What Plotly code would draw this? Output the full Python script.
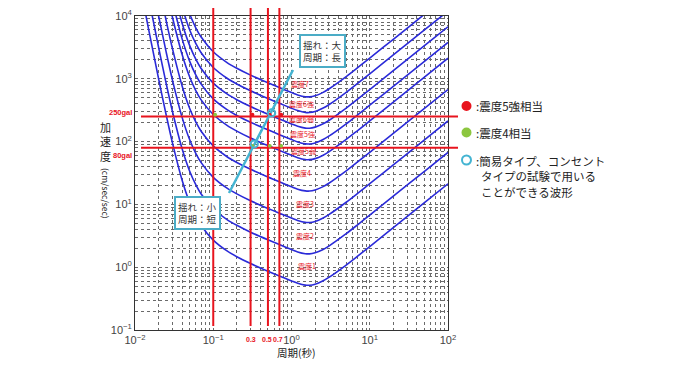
import plotly.graph_objects as go

# ---- data ----
periods = [0.01, 0.012, 0.015, 0.02, 0.025, 0.03, 0.04, 0.05, 0.06, 0.07, 0.1, 0.15, 0.2,
           0.3, 0.5, 0.7, 1.0, 1.2, 1.5, 1.7, 2.0, 2.5, 3.0, 5.0, 7.0, 10, 20, 50, 100]

shindo1 = [None, 24490, 5970, 1006, 268, 97.2, 24.3, 10.67, 6.44, 4.62, 2.70, 1.815, 1.470,
           1.143, 0.864, 0.725, 0.605, 0.554, 0.518, 0.516, 0.536, 0.602, 0.687, 1.082, 1.500,
           2.135, 4.26, 10.65, 21.3]
shindo2 = [None, None, 18900, 3181, 847, 307, 76.9, 33.7, 20.4, 14.6, 8.53, 5.74, 4.65,
           3.61, 2.73, 2.29, 1.91, 1.75, 1.64, 1.63, 1.70, 1.90, 2.17, 3.42, 4.74,
           6.75, 13.5, 33.7, 67.4]
shindo3 = [None, None, None, 10060, 2679, 972, 243, 106.7, 64.4, 46.2, 27.0, 18.15, 14.7,
           11.43, 8.64, 7.25, 6.05, 5.54, 5.18, 5.16, 5.36, 6.02, 6.87, 10.82, 15.0,
           21.35, 42.6, 106.5, 213]
shindo4 = [None, None, None, 31810, 8472, 3073, 769, 337, 204, 146, 85.3, 57.4, 46.5,
           36.2, 27.3, 22.9, 19.1, 17.5, 16.4, 16.3, 17.0, 19.0, 21.7, 34.2, 47.4,
           67.5, 135, 337, 674]
shindo5l = [None, None, None, None, 26790, 9718, 2431, 1067, 644, 462, 270, 181.5, 147,
            114.3, 86.4, 72.5, 60.5, 55.4, 51.8, 51.6, 53.6, 60.2, 68.7, 108.2, 150,
            213.5, 426, 1065, 2130]
shindo5u = [None, None, None, None, None, 17280, 4323, 1897, 1145, 822, 479, 323, 261,
            203, 154, 129, 108, 98.5, 92.1, 91.8, 95.3, 107, 122, 192, 267,
            380, 758, 1894, 3788]
shindo6l = [None, None, None, None, None, 30730, 7687, 3374, 2036, 1462, 853, 574, 465,
            361, 273, 229, 191, 175, 164, 163, 170, 190, 217, 342, 474,
            675, 1347, 3368, 6736]
shindo6u = [None, None, None, None, None, None, 13670, 6000, 3620, 2600, 1516, 1021, 827,
            643, 486, 408, 340, 312, 291, 290, 301, 339, 386, 609, 844,
            1201, 2396, 5989, 11980]
shindo7 = [None, None, None, None, None, None, None, 10670, 6437, 4623, 2696, 1815, 1470,
           1143, 864, 725, 605, 554, 518, 516, 536, 602, 687, 1082, 1500,
           2135, 4260, 10650, 21300]

curve_names = ["震度1", "震度2", "震度3", "震度4", "震度5弱", "震度5強", "震度6弱", "震度6強", "震度7"]
curves = [shindo1, shindo2, shindo3, shindo4, shindo5l, shindo5u, shindo6l, shindo6u, shindo7]

vline_periods = [0.1, 0.3, 0.5, 0.7]
hline_acc = [250, 80]
red_T = [0.3, 0.5, 0.7]
red_a = [250, 250, 250]
green_T = [0.1, 0.3, 0.5, 0.7]
green_a = [250, 80, 80, 80]
circle_T = [0.5, 0.3]
circle_a = [250, 80]
arrow_T = [0.159, 1.045]
arrow_a = [15.2, 1380]

x_tickvals = [0.01, 0.1, 1, 10, 100]
x_ticktext = ["10<sup>−2</sup>", "10<sup>−1</sup>", "10<sup>0</sup>", "10<sup>1</sup>", "10<sup>2</sup>"]
y_tickvals = [0.1, 1, 10, 100, 1000, 10000]
y_ticktext = ["10<sup>−1</sup>", "10<sup>0</sup>", "10<sup>1</sup>", "10<sup>2</sup>", "10<sup>3</sup>", "10<sup>4</sup>"]

# ---- style ----
# the page body adds an 8px offset, so the figure is drawn 8px smaller and shifted
OFF = 8
W, H = 680 - 2 * OFF, 367 - 2 * OFF
L, T = 135 - OFF, 16 - OFF
PW, PH = 313, 314
R = W - L - PW
B = H - T - PH
BLUE = "#2a2ad8"
RED = "#e8141e"
GREEN = "#8cc63f"
CYAN = "#44b4d2"
BOX = "#4bacc6"
JP = "Noto Sans CJK JP"


def px(x):
    # screen x (reference pixels) -> paper
    return (x - OFF - L) / PW


def py(y):
    # screen y (reference pixels) -> paper
    return (T + PH - (y - OFF)) / PH


def text(txt, x, y, size, color="#222", family=JP, xanchor="center", **kw):
    return dict(text=txt, x=px(x), y=py(y), xref="paper", yref="paper", showarrow=False,
                xanchor=xanchor, yanchor="middle",
                font=dict(family=family, size=size, color=color), **kw)


fig = go.Figure()
for name, vals in zip(curve_names, curves):
    fig.add_trace(go.Scatter(x=periods, y=vals, mode="lines", name=name,
                             line=dict(color=BLUE, width=1.6, shape="spline", smoothing=0.8),
                             connectgaps=False, hoverinfo="skip", showlegend=False))

shapes = []
for t in vline_periods:
    shapes.append(dict(type="line", xref="x", yref="paper", x0=t, x1=t,
                       y0=py(326), y1=py(8), line=dict(color=RED, width=2), layer="above"))
for a in hline_acc:
    shapes.append(dict(type="line", xref="paper", yref="y", x0=px(141), x1=px(458),
                       y0=a, y1=a, line=dict(color=RED, width=2), layer="above"))
shapes.append(dict(type="line", xref="x", yref="y", x0=arrow_T[0], y0=arrow_a[0],
                   x1=arrow_T[1], y1=arrow_a[1], line=dict(color=CYAN, width=2.5), layer="above"))
for t, a in zip(red_T, red_a):
    shapes.append(dict(type="circle", xref="x", yref="y", xsizemode="pixel", ysizemode="pixel",
                       xanchor=t, yanchor=a, x0=-3.8, x1=3.8, y0=-3.8, y1=3.8,
                       fillcolor=RED, line=dict(width=0), layer="above"))
for t, a in zip(green_T, green_a):
    shapes.append(dict(type="circle", xref="x", yref="y", xsizemode="pixel", ysizemode="pixel",
                       xanchor=t, yanchor=a, x0=-3.8, x1=3.8, y0=-3.8, y1=3.8,
                       fillcolor=GREEN, line=dict(width=0), layer="above"))
for t, a in zip(circle_T, circle_a):
    shapes.append(dict(type="circle", xref="x", yref="y", xsizemode="pixel", ysizemode="pixel",
                       xanchor=t, yanchor=a, x0=-7.3, x1=7.3, y0=-7.3, y1=7.3,
                       fillcolor="rgba(0,0,0,0)", line=dict(color=CYAN, width=2), layer="above"))
# legend markers
shapes.append(dict(type="circle", xref="paper", yref="paper", x0=px(461.5), x1=px(471.5),
                   y0=py(111), y1=py(101), fillcolor=RED, line=dict(width=0)))
shapes.append(dict(type="circle", xref="paper", yref="paper", x0=px(461.5), x1=px(471.5),
                   y0=py(137.5), y1=py(127.5), fillcolor=GREEN, line=dict(width=0)))
shapes.append(dict(type="circle", xref="paper", yref="paper", x0=px(462), x1=px(471),
                   y0=py(164.5), y1=py(155.5), fillcolor="rgba(0,0,0,0)", line=dict(color=CYAN, width=2)))

ann = []
# intensity labels
lab_x = [307, 305, 305, 302, 303, 302, 301, 301, 300]
lab_y = [266, 236, 204, 173, 151, 134, 119, 104, 84]
for name, x, y in zip(curve_names, lab_x, lab_y):
    ann.append(text(name, x, y, 7, color=RED))
# red period labels
for txt, x in zip(["0.3", "0.5", "0.7"], [250.7, 267, 278.3]):
    ann.append(text("<b>" + txt + "</b>", x, 339, 7, color=RED, family="Liberation Sans"))
ann.append(text("<b>250gal</b>", 134, 112, 7.5, color=RED, family="Liberation Sans", xanchor="right"))
ann.append(text("<b>80gal</b>", 134, 155, 7.5, color=RED, family="Liberation Sans", xanchor="right"))
# callout boxes
ann.append(text("揺れ：大<br>周期：長", 322.5, 51, 9.5, color="#333", bgcolor="white",
                bordercolor=BOX, borderwidth=2, borderpad=2, align="left"))
ann.append(text("揺れ：小<br>周期：短", 197.5, 213, 9.5, color="#333", bgcolor="white",
                bordercolor=BOX, borderwidth=2, borderpad=2, align="left"))
# axis titles
ann.append(text("加<br>速<br>度", 105, 141, 11))
ann.append(text("(cm/sec/sec)", 106, 193, 8.5, textangle=90))
ann.append(text("周期(秒)", 296, 352, 10.5))
# legend texts
for txt, x, y in [(":震度5強相当", 474, 106), (":震度4相当", 474, 133),
                  (":簡易タイプ、コンセント", 474, 161), ("タイプの試験で用いる", 479, 176.5),
                  ("ことができる波形", 479, 191.5)]:
    ann.append(text(txt, x, y, 11.5, xanchor="left"))

grid = dict(gridcolor="#6a6a6a", griddash="dot", gridwidth=1)
x_minor = [m * d for d in [0.01, 0.1, 1, 10] for m in range(2, 10)]
y_minor = [m * d for d in [0.1, 1, 10, 100, 1000] for m in range(2, 10)]

fig.update_layout(
    width=W, height=H, margin=dict(l=L, r=R, t=T, b=B, autoexpand=False),
    paper_bgcolor="white", plot_bgcolor="white",
    shapes=shapes, annotations=ann, showlegend=False,
    xaxis=dict(type="log", range=[-2, 2], tickmode="array", tickvals=x_tickvals, ticktext=x_ticktext,
               showgrid=True, **grid, showline=True, mirror=True, linecolor="#333", linewidth=1,
               ticks="", zeroline=False, automargin=False,
               tickfont=dict(family="Liberation Sans", size=11, color="#444"),
               minor=dict(tickmode="array", tickvals=x_minor, showgrid=True, **grid)),
    yaxis=dict(type="log", range=[-1, 4], tickmode="array", tickvals=y_tickvals, ticktext=y_ticktext,
               showgrid=True, **grid, showline=True, mirror=True, linecolor="#333", linewidth=1,
               ticks="", zeroline=False, automargin=False,
               tickfont=dict(family="Liberation Sans", size=11, color="#444"),
               minor=dict(tickmode="array", tickvals=y_minor, showgrid=True, **grid)),
)

fig.write_html("out.html")
